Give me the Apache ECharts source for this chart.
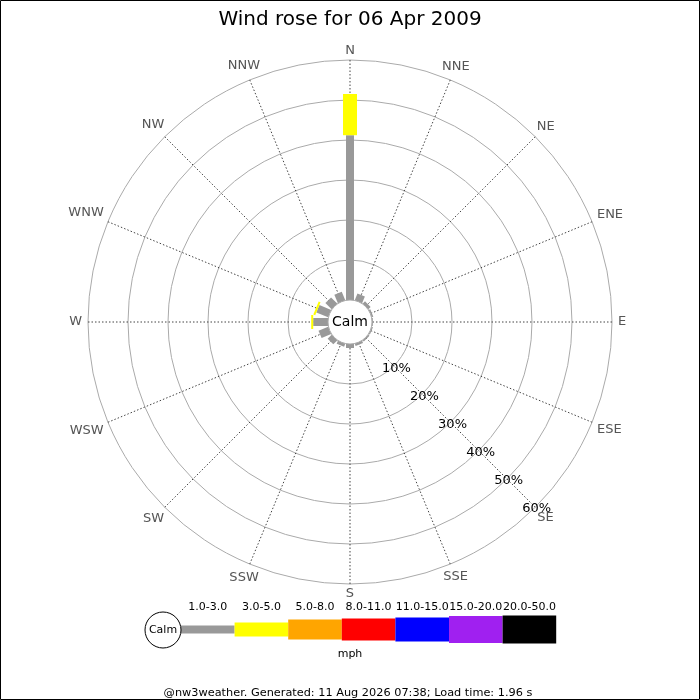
<!DOCTYPE html>
<html>
<head>
<meta charset="utf-8">
<script src="https://cdn.jsdelivr.net/npm/echarts@6/dist/echarts.min.js"></script>
<style>
  html, body { margin: 0; padding: 0; background: #fff; }
  #main { width: 700px; height: 700px; }
</style>
</head>
<body>
<div id="main"></div>
<script>
const directions = ["N", "NNE", "NE", "ENE", "E", "ESE", "SE", "SSE",
  "S", "SSW", "SW", "WSW", "W", "WNW", "NW", "NNW"];
const bands = ["1.0-3.0", "3.0-5.0", "5.0-8.0", "8.0-11.0", "11.0-15.0", "15.0-20.0", "20.0-50.0"];
const bandColors = ["#999999", "#ffff00", "#ffa500", "#ff0000", "#0000ff", "#a020f0", "#000000"];
const bandWidths = [8, 14, 20, 22, 24, 27, 28];
// percentage of time per direction, one array per speed band (mph)
const speed1to3 = [41.2, 1.8, 0.8, 0.4, 0.2, 0.3, 0.4, 0.6, 1.0, 0.8, 1.4, 2.6, 3.7, 3.2, 2.2, 2.3];
const speed3to5 = [10.3, 0, 0, 0, 0, 0, 0, 0, 0, 0, 0, 0, 0.5, 0.5, 0, 0];
const radiusTicks = [10, 20, 30, 40, 50, 60];

const bandData = [speed1to3, speed3to5];
const rows = [];
directions.forEach(function (d, i) {
  let base = 0;
  bandData.forEach(function (vals, b) {
    const v = vals[i];
    if (v > 0) {
      rows.push([i * 22.5, base, base + v, b]);
      base += v;
    }
  });
});
const dirRows = directions.map(function (d, i) { return [i * 22.5, 60]; });

function renderBar(params, api) {
  const a = api.value(0), r0 = api.value(1), r1 = api.value(2), b = api.value(3);
  const p0 = api.coord([r0, a]);
  const p1 = api.coord([r1, a]);
  const dx = p1[0] - p0[0], dy = p1[1] - p0[1];
  const len = Math.sqrt(dx * dx + dy * dy);
  if (len < 0.01) return;
  const nx = -dy / len * bandWidths[b] / 2, ny = dx / len * bandWidths[b] / 2;
  return {
    type: "polygon",
    shape: { points: [
      [p0[0] + nx, p0[1] + ny], [p1[0] + nx, p1[1] + ny],
      [p1[0] - nx, p1[1] - ny], [p0[0] - nx, p0[1] - ny]
    ] },
    style: { fill: bandColors[b] }
  };
}

const font = "DejaVu Sans";
const measure = document.createElement("canvas").getContext("2d");
measure.font = "13px " + font;

// direction label just outside the ring, pushed out by half its box along the spoke
function renderDir(params, api) {
  const name = directions[params.dataIndex];
  const p = api.coord([api.value(1), api.value(0)]);
  const cs = params.coordSys;
  const ux = p[0] - cs.cx, uy = p[1] - cs.cy;
  const len = Math.sqrt(ux * ux + uy * uy);
  const sx = ux / len, sy = uy / len;
  const hw = measure.measureText(name).width / 2, hh = 3.5;
  const push = 6 + hw * Math.abs(sx) + hh * Math.abs(sy);
  return {
    type: "text",
    x: p[0] + sx * push, y: p[1] + sy * push,
    style: { text: name, fill: "#555", font: "13px " + font, align: "center", verticalAlign: "middle" }
  };
}

const legendItems = [];
const legX = 181, legW = 53.6, legY = 629.5;
bands.forEach(function (name, b) {
  legendItems.push({
    type: "rect",
    shape: { x: legX + b * legW, y: legY - bandWidths[b] / 2, width: legW, height: bandWidths[b] },
    style: { fill: bandColors[b] }
  });
  legendItems.push({
    type: "text",
    x: legX + b * legW + legW / 2, y: 607,
    style: { text: name, fill: "#000", font: "11px " + font, align: "center", verticalAlign: "middle" }
  });
});

const myChart = echarts.init(document.getElementById("main"));
myChart.setOption({
  animation: false,
  title: {
    text: "Wind rose for 06 Apr 2009",
    left: "center", top: 5,
    textStyle: { fontFamily: font, fontSize: 20, fontWeight: "normal", color: "#000" }
  },
  polar: [
    { center: [350, 322], radius: [22, 262] },
    { center: [350, 322], radius: [26, 264] }
  ],
  angleAxis: [
    {
      polarIndex: 0, type: "value", min: 0, max: 360, interval: 22.5,
      startAngle: 90, clockwise: true,
      axisLine: { show: false },
      axisTick: { show: false },
      axisLabel: { show: false },
      splitLine: { lineStyle: { color: "#444", width: 1, type: [1.5, 2] } }
    },
    {
      polarIndex: 1, type: "value", min: 0, max: 360, startAngle: -45, show: false
    }
  ],
  radiusAxis: [
    {
      polarIndex: 0, type: "value", min: 0, max: 60, interval: 10,
      axisLine: { show: false }, axisTick: { show: false }, axisLabel: { show: false },
      splitLine: { lineStyle: { color: "#aaaaaa", width: 1 } }
    },
    {
      polarIndex: 1, type: "value", min: 0, max: 60, interval: 10,
      axisLine: { show: false }, axisTick: { show: false }, splitLine: { show: false },
      axisLabel: {
        margin: 0, showMinLabel: false, color: "#000", fontFamily: font, fontSize: 13,
        align: "center", verticalAlign: "middle",
        formatter: function (v) { return radiusTicks.indexOf(v) >= 0 ? v + "%" : ""; }
      }
    }
  ],
  series: [
    {
      type: "custom",
      coordinateSystem: "polar",
      polarIndex: 0,
      encode: { angle: 0, radius: 2 },
      data: rows,
      renderItem: renderBar,
      silent: true
    },
    {
      type: "custom",
      coordinateSystem: "polar",
      polarIndex: 0,
      encode: { angle: 0, radius: 1 },
      data: dirRows,
      renderItem: renderDir,
      clip: false,
      silent: true
    }
  ],
  graphic: [
    { type: "rect", z: 100, shape: { x: 0.5, y: 0.5, width: 699, height: 699 },
      style: { fill: null, stroke: "#000", lineWidth: 1 } },
    { type: "circle", z: 100, shape: { cx: 350, cy: 322, r: 22 },
      style: { fill: "#fff", stroke: "#aaaaaa", lineWidth: 1 } },
    { type: "text", z: 101, x: 350, y: 322,
      style: { text: "Calm", fill: "#000", font: "14px " + font, align: "center", verticalAlign: "middle" } },
    { type: "group", z: 100, children: legendItems.concat([
      { type: "circle", shape: { cx: 163, cy: 630, r: 18 }, z2: 10,
        style: { fill: "#fff", stroke: "#000", lineWidth: 1 } },
      { type: "text", x: 163, y: 630, z2: 11,
        style: { text: "Calm", fill: "#000", font: "11px " + font, align: "center", verticalAlign: "middle" } },
      { type: "text", x: 350, y: 654,
        style: { text: "mph", fill: "#000", font: "11px " + font, align: "center", verticalAlign: "middle" } },
      { type: "text", x: 348, y: 693,
        style: { text: "@nw3weather. Generated: 11 Aug 2026 07:38; Load time: 1.96 s", fill: "#000",
          font: "11.3px " + font, align: "center", verticalAlign: "middle" } }
    ]) }
  ]
});
window.onresize = function () { myChart.resize(); };
</script>
</body>
</html>
